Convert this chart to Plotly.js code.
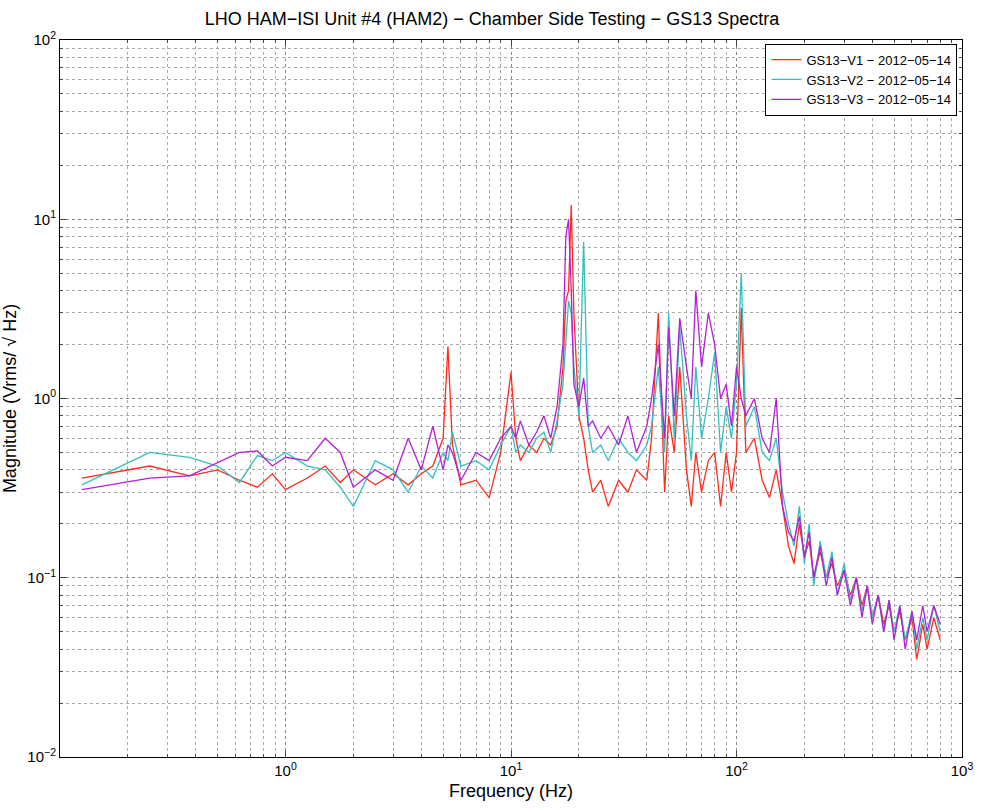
<!DOCTYPE html>
<html>
<head>
<meta charset="utf-8">
<script src="https://cdn.plot.ly/plotly-3.0.1.min.js"></script>
<style>body{margin:0;background:#fff}</style>
</head>
<body>
<div id="graph" style="width:984px;height:812px"></div>
<script>
// frequency points (Hz), shared by all three sensors
const freq = [0.125,0.25,0.375,0.5,0.625,0.75,0.875,1,1.25,1.5,1.75,2,2.5,3,3.5,4,4.5,5,5.25,5.5,6,7,8,9,10,10.5,11,12,13,14,15,16,17,17.5,18,18.5,19,20,21,22,23,25,27,30,33,36,40,42,45,48,50,53,56,60,63,66,70,75,80,85,90,95,100,105,110,120,130,140,150,160,170,180,190,200,210,220,235,250,265,280,300,320,340,360,380,400,425,450,475,500,530,560,600,630,670,700,750,800]

const v1 = [0.36,0.42,0.37,0.4,0.35,0.32,0.38,0.31,0.36,0.42,0.34,0.4,0.33,0.38,0.33,0.38,0.42,0.6,1.95,0.55,0.33,0.35,0.28,0.5,1.4,0.6,0.45,0.55,0.5,0.6,0.55,0.7,1.5,3.5,4.0,12,3.0,0.8,0.6,0.4,0.3,0.35,0.25,0.35,0.3,0.4,0.35,0.6,3.0,0.3,0.8,0.5,1.5,0.4,0.25,0.5,0.3,0.45,0.5,0.25,0.5,0.3,0.5,3.2,0.5,0.6,0.35,0.28,0.4,0.25,0.15,0.12,0.2,0.13,0.16,0.1,0.14,0.1,0.12,0.09,0.11,0.08,0.1,0.07,0.09,0.06,0.08,0.055,0.07,0.05,0.065,0.045,0.06,0.035,0.055,0.04,0.06,0.045]
const v2 = [0.33,0.5,0.47,0.42,0.34,0.48,0.45,0.5,0.42,0.4,0.32,0.25,0.45,0.4,0.3,0.42,0.36,0.5,0.45,0.65,0.42,0.45,0.4,0.55,0.7,0.5,0.55,0.5,0.6,0.65,0.5,0.75,1.2,2.0,3.5,3.0,1.5,0.8,7.5,0.7,0.5,0.55,0.45,0.6,0.5,0.45,0.55,0.7,1.5,0.5,3.0,0.6,2.5,0.8,0.45,1.5,0.6,1.0,1.8,0.5,0.9,0.6,1.2,5.0,0.7,0.9,0.5,0.45,0.6,0.3,0.2,0.15,0.25,0.12,0.2,0.09,0.16,0.1,0.14,0.08,0.12,0.075,0.1,0.065,0.09,0.06,0.08,0.05,0.075,0.05,0.07,0.045,0.065,0.04,0.06,0.045,0.07,0.05]
const v3 = [0.31,0.36,0.37,0.44,0.5,0.51,0.42,0.47,0.45,0.6,0.5,0.32,0.4,0.35,0.6,0.4,0.7,0.4,0.55,0.5,0.35,0.5,0.45,0.6,0.7,0.6,0.75,0.55,0.65,0.8,0.6,0.9,2.0,8.0,10,4.0,1.2,0.9,1.3,0.7,0.75,0.6,0.7,0.55,0.8,0.5,0.7,1.0,2.0,0.6,2.5,0.8,2.8,1.5,1.0,4.0,1.5,3.0,2.0,1.0,1.2,0.7,1.5,1.0,0.8,1.0,0.6,0.5,1.0,0.25,0.18,0.16,0.22,0.13,0.18,0.1,0.15,0.09,0.13,0.08,0.11,0.07,0.1,0.06,0.09,0.055,0.08,0.05,0.075,0.045,0.07,0.04,0.065,0.045,0.07,0.05,0.07,0.055]

const names = ['GS13\u2212V1 \u2212 2012\u221205\u221214','GS13\u2212V2 \u2212 2012\u221205\u221214','GS13\u2212V3 \u2212 2012\u221205\u221214']
const colors = ['#ff2a1a','#33bfbf','#b31fd6']
const series = [v1, v2, v3]

const traces = series.map((ys, i) => ({
  x: freq, y: ys, type: 'scatter', mode: 'lines', name: names[i],
  line: { color: colors[i], width: 1.3 }
}))

function logAxis(range, vals, text, title) {
  return {
    type: 'log', range: range, mirror: 'ticks', showline: true, linecolor: '#000',
    ticks: 'inside', ticklen: 6, tickvals: vals, ticktext: text,
    showgrid: true, gridcolor: '#888', griddash: 'dot', gridwidth: 1,
    minor: { dtick: 'D1', ticks: 'inside', ticklen: 3, showgrid: true, gridcolor: '#aaa', griddash: 'dot' },
    title: { text: title, standoff: 6 }, zeroline: false
  }
}

Plotly.newPlot('graph', traces, {
  width: 984, height: 812,
  paper_bgcolor: '#fff', plot_bgcolor: '#fff',
  font: { family: 'Liberation Sans, Arial, sans-serif', size: 15, color: '#000' },
  margin: { l: 60, r: 22, t: 40, b: 55 },
  title: { text: 'LHO HAM\u2212ISI Unit #4 (HAM2) \u2212 Chamber Side Testing \u2212 GS13 Spectra', x: 0.5, y: 0.985, font: { size: 18 } },
  xaxis: logAxis([-1, 3], [1, 10, 100, 1000],
    ['10<sup>0</sup>', '10<sup>1</sup>', '10<sup>2</sup>', '10<sup>3</sup>'], 'Frequency (Hz)'),
  yaxis: logAxis([-2, 2], [0.01, 0.1, 1, 10, 100],
    ['10<sup>\u22122</sup>', '10<sup>\u22121</sup>', '10<sup>0</sup>', '10<sup>1</sup>', '10<sup>2</sup>'], 'Magnitude (Vrms/ \u221a Hz)'),
  legend: {
    x: 0.995, y: 0.995, xanchor: 'right', yanchor: 'top',
    bgcolor: '#fff', bordercolor: '#000', borderwidth: 1,
    font: { size: 13 }, tracegroupgap: 0
  }
}, { staticPlot: true, displayModeBar: false })
</script>
</body>
</html>
